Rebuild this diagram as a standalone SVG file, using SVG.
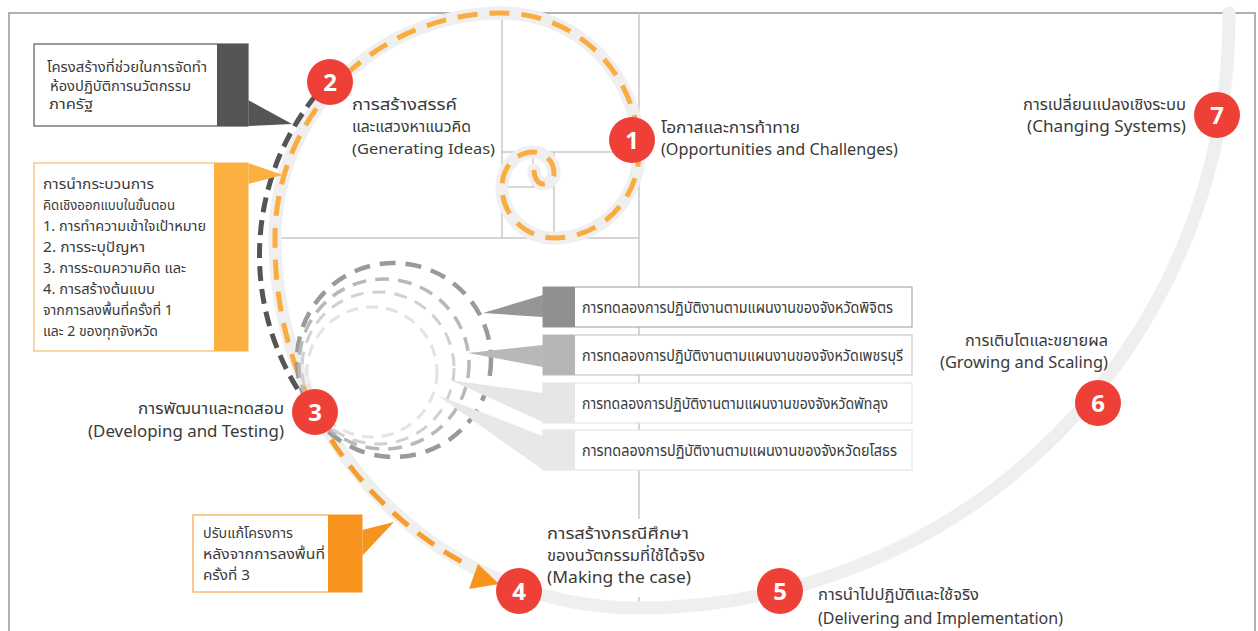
<svg xmlns="http://www.w3.org/2000/svg" width="1258" height="631" viewBox="0 0 1258 631">
<style>
  text { font-family: "Noto Sans Thai", "Noto Sans Thai Looped", "Noto Sans", "Liberation Sans", sans-serif; fill: #3a3a3a; }
  .lbl { font-size: 16px; }
  .lbl2 { font-size: 15px; }
  .box { font-size: 13.5px; }
  .bar { font-size: 15.5px; }
  .num { font-family: "Open Sans", "Liberation Sans", sans-serif; font-weight: 700; font-size: 24px; fill: #ffffff; text-anchor: middle; }
  .end { text-anchor: end; }
  .grid { stroke: #c9c9c9; stroke-width: 1.5; fill: none; }
  .band { stroke: #efefef; stroke-width: 13; fill: none; stroke-linecap: round; }
  .orange { stroke: #f9ad40; stroke-width: 5; fill: none; stroke-dasharray: 20 12; }
  .orange2 { stroke: #f89c2c; stroke-width: 5; fill: none; stroke-dasharray: 20 12; }
  .dark { stroke: #555555; stroke-width: 5; fill: none; stroke-dasharray: 15 8; }
  .dot { fill: #ee4036; }
</style>
<rect x="9" y="13" width="1246" height="640" fill="#ffffff" stroke="#b0b0b0" stroke-width="2"/>

<g id="grid">
  <line class="grid" x1="639" y1="13" x2="639" y2="519"/>
  <line class="grid" x1="639" y1="597" x2="639" y2="610"/>
  <line class="grid" x1="275" y1="238" x2="639" y2="238"/>
  <line class="grid" x1="502" y1="13" x2="502" y2="238"/>
  <line class="grid" x1="502" y1="152" x2="639" y2="152"/>
  <line class="grid" x1="554" y1="152" x2="554" y2="238"/>
  <line class="grid" x1="502" y1="187" x2="554" y2="187"/>
  <line class="grid" x1="533" y1="152" x2="533" y2="187"/>
</g>

<g id="connectors">
  <path class="band" d="M534,170 A9 14 0 0 0 543,184 A11 11 0 0 0 554,173 A21 21 0 0 0 533,152 A31 35 0 0 0 502,187 A52 51 0 0 0 554,238 A85 86 0 0 0 639,152 A137 139 0 0 0 502,13 A227 225 0 0 0 275,238 A364 370 0 0 0 639,608 A590 590 0 0 0 1229,18 L1229,13"/>
  <path class="orange" d="M534,170 A9 14 0 0 0 543,184 A11 11 0 0 0 554,173 A21 21 0 0 0 533,152 A31 35 0 0 0 502,187 A52 51 0 0 0 554,238 A85 86 0 0 0 639,152 A137 139 0 0 0 502,13 A227 225 0 0 0 275,238 A364 370 0 0 0 315,412"/>
  <path class="orange2" d="M315,412 A364 370 0 0 0 466,564"/>
  <polygon points="469,589 478,564 499,584" fill="#f7941d"/>
  <path class="dark" d="M316,95 A255 255 0 0 0 300,393"/>
  <g id="pilot-circles" fill="none">
    <circle cx="394" cy="360" r="97" stroke="#9a9a9a" stroke-width="4.5" stroke-dasharray="16 10"/>
    <circle cx="384" cy="364" r="85" stroke="#b8b8b8" stroke-width="3.5" stroke-dasharray="14 9"/>
    <circle cx="378" cy="368" r="76" stroke="#d0d0d0" stroke-width="3" stroke-dasharray="13 9"/>
    <circle cx="372" cy="372" r="65" stroke="#e3e3e3" stroke-width="3" stroke-dasharray="12 8"/>
  </g>
</g>

<g id="callout-structure">
  <polygon points="248,100 292,124 248,126" fill="#555555"/>
  <rect x="34" y="44" width="214" height="82" fill="#ffffff" stroke="#7a7a7a" stroke-width="1.5"/>
  <rect x="217" y="44" width="31" height="82" fill="#555555"/>
  <text class="box" x="47" y="72" textLength="160" lengthAdjust="spacingAndGlyphs">โครงสร้างที่ช่วยในการจัดทำ</text>
  <text class="box" x="50" y="91" textLength="141" lengthAdjust="spacingAndGlyphs">ห้องปฏิบัติการนวัตกรรม</text>
  <text class="box" x="49" y="109" textLength="44" lengthAdjust="spacingAndGlyphs">ภาครัฐ</text>
</g>

<g id="callout-process">
  <polygon points="248,163 283,175 248,184" fill="#fbb040"/>
  <rect x="34" y="163" width="214" height="188" fill="#ffffff" stroke="#fbc98a" stroke-width="1.5"/>
  <rect x="214" y="163" width="34" height="188" fill="#fbb040"/>
  <text class="box" x="43" y="189" textLength="111" lengthAdjust="spacingAndGlyphs">การนำกระบวนการ</text>
  <text class="box" x="43" y="210" textLength="132" lengthAdjust="spacingAndGlyphs">คิดเชิงออกแบบในขั้นตอน</text>
  <text class="box" x="43" y="231" textLength="163" lengthAdjust="spacingAndGlyphs">1. การทำความเข้าใจเป้าหมาย</text>
  <text class="box" x="43" y="252" textLength="102" lengthAdjust="spacingAndGlyphs">2. การระบุปัญหา</text>
  <text class="box" x="43" y="273" textLength="143" lengthAdjust="spacingAndGlyphs">3. การระดมความคิด และ</text>
  <text class="box" x="43" y="294" textLength="112" lengthAdjust="spacingAndGlyphs">4. การสร้างต้นแบบ</text>
  <text class="box" x="43" y="315" textLength="130" lengthAdjust="spacingAndGlyphs">จากการลงพื้นที่ครั้งที่ 1</text>
  <text class="box" x="43" y="336" textLength="115" lengthAdjust="spacingAndGlyphs">และ 2 ของทุกจังหวัด</text>
</g>

<g id="callout-revise">
  <polygon points="362,530 394,522 362,556" fill="#f7941d"/>
  <rect x="193" y="515" width="169" height="77" fill="#ffffff" stroke="#f9b86a" stroke-width="1.5"/>
  <rect x="328" y="515" width="34" height="77" fill="#f7941d"/>
  <text class="box" x="203" y="538" textLength="90" lengthAdjust="spacingAndGlyphs">ปรับแก้โครงการ</text>
  <text class="box" x="203" y="559" textLength="122" lengthAdjust="spacingAndGlyphs">หลังจากการลงพื้นที่</text>
  <text class="box" x="203" y="580" textLength="47" lengthAdjust="spacingAndGlyphs">ครั้งที่ 3</text>
</g>

<g id="bar-phichit">
  <polygon points="543,295 483,313 543,317" fill="#959595"/>
  <rect x="543" y="287" width="369" height="40" fill="#ffffff" stroke="#9a9a9a" stroke-width="1"/>
  <rect x="543" y="287" width="32" height="40" fill="#8f8f8f"/>
  <text class="bar" x="582" y="313" textLength="311" lengthAdjust="spacingAndGlyphs">การทดลองการปฏิบัติงานตามแผนงานของจังหวัดพิจิตร</text>
</g>
<g id="bar-phetchaburi">
  <polygon points="543,345 468,353 543,367" fill="#b8b8b8"/>
  <rect x="543" y="335" width="369" height="40" fill="#ffffff" stroke="#bdbdbd" stroke-width="1"/>
  <rect x="543" y="335" width="32" height="40" fill="#b5b5b5"/>
  <text class="bar" x="582" y="361" textLength="321" lengthAdjust="spacingAndGlyphs">การทดลองการปฏิบัติงานตามแผนงานของจังหวัดเพชรบุรี</text>
</g>
<g id="bar-phatthalung">
  <polygon points="543,393 450,380 543,422" fill="#e6e6e6"/>
  <rect x="543" y="383" width="369" height="40" fill="#ffffff" stroke="#e0e0e0" stroke-width="1"/>
  <rect x="543" y="383" width="32" height="40" fill="#e6e6e6"/>
  <text class="bar" x="582" y="409" textLength="306" lengthAdjust="spacingAndGlyphs">การทดลองการปฏิบัติงานตามแผนงานของจังหวัดพัทลุง</text>
</g>
<g id="bar-yasothon">
  <polygon points="543,436 437,395 543,470" fill="#e8e8e8"/>
  <rect x="543" y="430" width="369" height="40" fill="#ffffff" stroke="#e0e0e0" stroke-width="1"/>
  <rect x="543" y="430" width="32" height="40" fill="#e8e8e8"/>
  <text class="bar" x="582" y="456" textLength="315" lengthAdjust="spacingAndGlyphs">การทดลองการปฏิบัติงานตามแผนงานของจังหวัดยโสธร</text>
</g>

<g id="step1">
  <circle class="dot" cx="632" cy="140" r="23"/>
  <text class="num" x="632" y="149">1</text>
  <text class="lbl" x="661" y="133" textLength="139" lengthAdjust="spacingAndGlyphs">โอกาสและการท้าทาย</text>
  <text class="lbl" x="661" y="155" textLength="237" lengthAdjust="spacingAndGlyphs">(Opportunities and Challenges)</text>
</g>
<g id="step2">
  <circle class="dot" cx="330" cy="82" r="23"/>
  <text class="num" x="330" y="91">2</text>
  <text class="lbl2" x="352" y="110" textLength="105" lengthAdjust="spacingAndGlyphs">การสร้างสรรค์</text>
  <text class="lbl2" x="352" y="132" textLength="119" lengthAdjust="spacingAndGlyphs">และแสวงหาแนวคิด</text>
  <text class="lbl2" x="352" y="154" textLength="143" lengthAdjust="spacingAndGlyphs">(Generating Ideas)</text>
</g>
<g id="step3">
  <circle class="dot" cx="315" cy="412" r="23"/>
  <text class="num" x="315" y="421">3</text>
  <text class="lbl end" x="284" y="414" textLength="146" lengthAdjust="spacingAndGlyphs">การพัฒนาและทดสอบ</text>
  <text class="lbl end" x="284" y="437" textLength="196" lengthAdjust="spacingAndGlyphs">(Developing and Testing)</text>
</g>
<g id="step4">
  <circle class="dot" cx="519" cy="591" r="23"/>
  <text class="num" x="519" y="600">4</text>
  <text class="lbl" x="547" y="539" textLength="142" lengthAdjust="spacingAndGlyphs">การสร้างกรณีศึกษา</text>
  <text class="lbl" x="547" y="561" textLength="158" lengthAdjust="spacingAndGlyphs">ของนวัตกรรมที่ใช้ได้จริง</text>
  <text class="lbl" x="547" y="583" textLength="144" lengthAdjust="spacingAndGlyphs">(Making the case)</text>
</g>
<g id="step5">
  <circle class="dot" cx="780" cy="591" r="23"/>
  <text class="num" x="780" y="600">5</text>
  <text class="lbl" x="818" y="600" textLength="161" lengthAdjust="spacingAndGlyphs">การนำไปปฏิบัติและใช้จริง</text>
  <text class="lbl" x="818" y="624" textLength="245" lengthAdjust="spacingAndGlyphs">(Delivering and Implementation)</text>
</g>
<g id="step6">
  <circle class="dot" cx="1098" cy="403" r="23"/>
  <text class="num" x="1098" y="412">6</text>
  <text class="lbl end" x="1108" y="346" textLength="143" lengthAdjust="spacingAndGlyphs">การเติบโตและขยายผล</text>
  <text class="lbl end" x="1108" y="368" textLength="168" lengthAdjust="spacingAndGlyphs">(Growing and Scaling)</text>
</g>
<g id="step7">
  <circle class="dot" cx="1217" cy="115" r="23"/>
  <text class="num" x="1217" y="124">7</text>
  <text class="lbl end" x="1186" y="110" textLength="163" lengthAdjust="spacingAndGlyphs">การเปลี่ยนแปลงเชิงระบบ</text>
  <text class="lbl end" x="1186" y="132" textLength="159" lengthAdjust="spacingAndGlyphs">(Changing Systems)</text>
</g>
</svg>
